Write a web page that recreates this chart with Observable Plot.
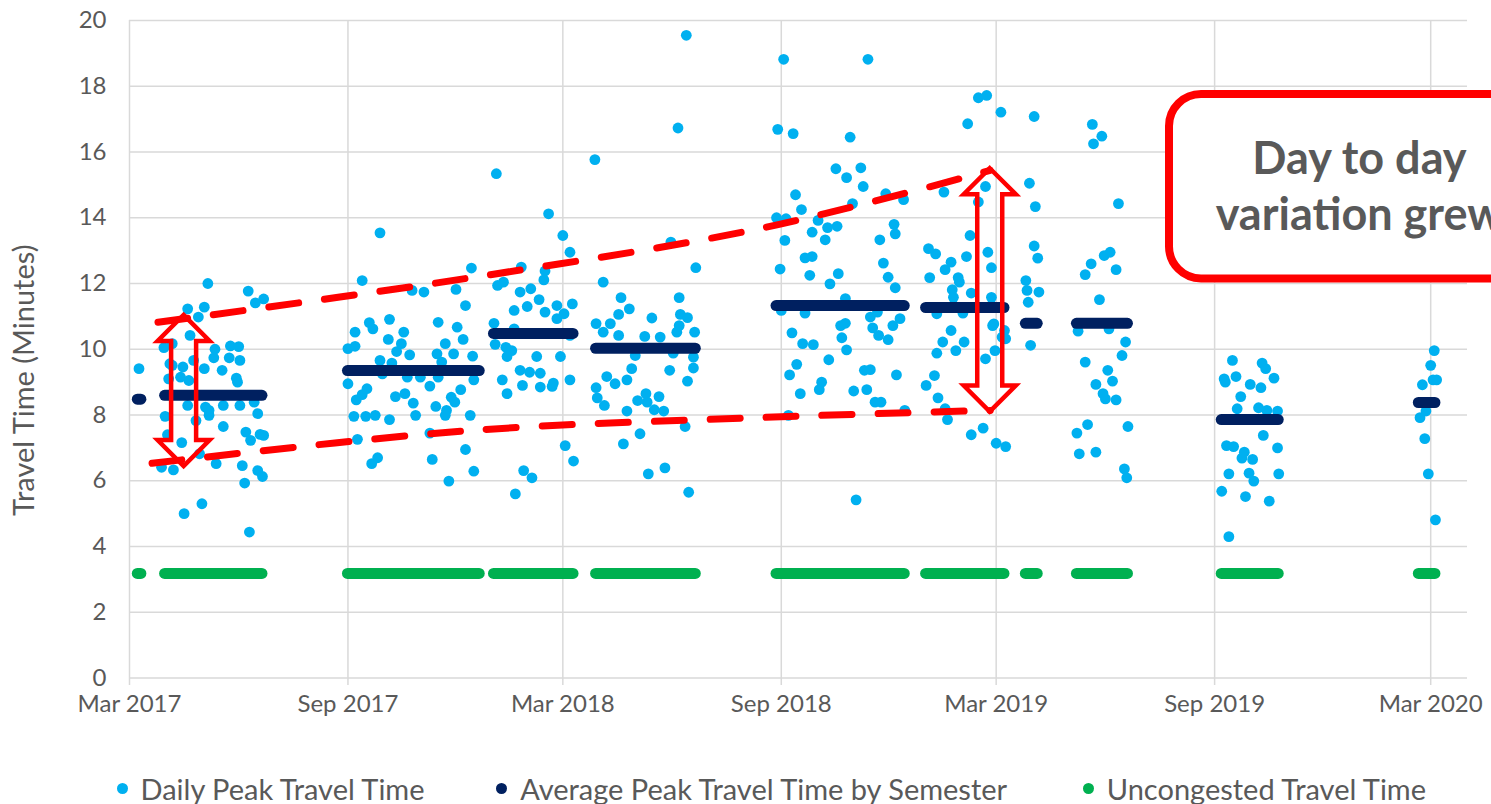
<!DOCTYPE html>
<html>
<head>
<meta charset="utf-8">
<script src="https://cdn.jsdelivr.net/npm/d3@7"></script>
<script src="https://cdn.jsdelivr.net/npm/@observablehq/plot@0.6"></script>
<style>
  html, body { margin: 0; padding: 0; background: #fff; }
  body { width: 1491px; height: 804px; overflow: hidden; font-family: Lato, "Open Sans", sans-serif; }
  #chart svg { display: block; }
  #legend { position: relative; width: 1491px; height: 54px; color: #595959; font-size: 29px; }
  #legend .item { position: absolute; top: 22px; height: 32px; display: flex; align-items: center; gap: 13px; white-space: nowrap; }
  #legend .dot { width: 11px; height: 11px; border-radius: 50%; flex: none; }
</style>
</head>
<body>
<div id="chart"></div>
<div id="legend"></div>
<script>
// ---------- DATA ----------
const xTickDates = ["2017-03-01","2017-09-01","2018-03-01","2018-09-01","2019-03-01","2019-09-01","2020-03-01"];
const yTickValues = [0,2,4,6,8,10,12,14,16,18,20];

// Daily peak travel time (minutes), [date, value]
const winter2017Peak = [["2017-03-09",9.41]];
const spring2017Peak = [
["2017-03-28",6.41],["2017-03-30",10.05],["2017-03-31",7.96],["2017-04-02",7.40],["2017-04-03",9.10],["2017-04-04",9.56],["2017-04-06",10.17],["2017-04-06",9.51],["2017-04-07",6.33],["2017-04-13",9.15],["2017-04-14",7.16],["2017-04-15",9.46],["2017-04-16",5.00],["2017-04-19",8.29],["2017-04-19",11.23],["2017-04-20",9.05],["2017-04-21",10.42],["2017-04-24",9.66],["2017-04-26",7.83],["2017-04-28",10.98],["2017-04-29",6.82],["2017-05-01",5.30],["2017-05-03",9.41],["2017-05-03",11.28],["2017-05-04",8.24],["2017-05-06",12.00],["2017-05-07",7.99],["2017-05-07",8.14],["2017-05-11",9.74],["2017-05-12",10.00],["2017-05-13",6.52],["2017-05-18",9.36],["2017-05-19",8.29],["2017-05-19",7.65],["2017-05-24",9.74],["2017-05-25",10.10],["2017-05-30",9.12],["2017-05-31",9.00],["2017-06-01",10.08],["2017-06-02",9.66],["2017-06-02",8.29],["2017-06-04",6.46],["2017-06-06",5.93],["2017-06-07",7.48],["2017-06-09",11.77],["2017-06-10",4.44],["2017-06-11",7.23],["2017-06-14",8.39],["2017-06-15",11.41],["2017-06-17",6.31],["2017-06-17",8.04],["2017-06-19",7.41],["2017-06-21",6.13],["2017-06-22",11.53],["2017-06-22",7.38]];
const fall2017Peak = [
["2017-09-01",10.02],["2017-09-01",8.95],["2017-09-06",7.96],["2017-09-07",10.52],["2017-09-07",10.09],["2017-09-08",8.46],["2017-09-09",7.26],["2017-09-13",12.09],["2017-09-13",8.62],["2017-09-16",7.96],["2017-09-17",8.80],["2017-09-19",10.81],["2017-09-21",6.52],["2017-09-22",10.62],["2017-09-24",7.99],["2017-09-26",6.70],["2017-09-28",9.66],["2017-09-28",13.54],["2017-09-30",9.25],["2017-10-05",10.30],["2017-10-06",10.91],["2017-10-06",7.86],["2017-10-08",9.58],["2017-10-11",8.56],["2017-10-12",9.93],["2017-10-16",10.17],["2017-10-18",10.52],["2017-10-19",8.65],["2017-10-21",9.15],["2017-10-23",9.83],["2017-10-25",11.79],["2017-10-26",8.36],["2017-10-28",7.99],["2017-11-01",9.15],["2017-11-04",11.74],["2017-11-09",8.88],["2017-11-09",7.45],["2017-11-11",6.65],["2017-11-14",8.26],["2017-11-15",9.86],["2017-11-16",10.82],["2017-11-16",9.15],["2017-11-19",9.61],["2017-11-22",10.17],["2017-11-22",7.99],["2017-11-23",8.14],["2017-11-25",5.99],["2017-11-27",8.54],["2017-11-29",9.86],["2017-11-30",8.39],["2017-12-01",11.82],["2017-12-02",10.67],["2017-12-05",8.77],["2017-12-07",10.30],["2017-12-09",11.33],["2017-12-09",6.95],["2017-12-13",7.99],["2017-12-14",12.47],["2017-12-15",9.79],["2017-12-16",9.07],["2017-12-16",6.29]];
const winter2018Peak = [
["2018-01-02",10.79],["2018-01-03",10.15],["2018-01-04",15.34],["2018-01-05",11.94],["2018-01-09",9.07],["2018-01-10",12.04],["2018-01-12",10.06],["2018-01-13",9.78],["2018-01-13",8.65],["2018-01-17",9.96],["2018-01-19",11.18],["2018-01-19",10.62],["2018-01-20",5.60],["2018-01-24",11.74],["2018-01-24",9.36],["2018-01-25",12.50],["2018-01-26",8.90],["2018-01-27",6.31],["2018-01-30",11.30],["2018-02-01",9.30],["2018-02-02",11.84],["2018-02-03",6.09],["2018-02-07",9.78],["2018-02-09",11.51],["2018-02-10",9.27],["2018-02-10",8.85],["2018-02-13",12.11],["2018-02-14",12.38],["2018-02-14",11.13],["2018-02-17",14.12],["2018-02-20",8.87],["2018-02-21",8.97],["2018-02-24",11.33],["2018-02-24",10.93],["2018-02-27",9.78],["2018-03-01",13.46],["2018-03-02",11.08],["2018-03-03",7.07],["2018-03-07",9.07],["2018-03-07",12.95],["2018-03-07",10.42],["2018-03-09",11.38],["2018-03-10",6.60]];
const spring2018Peak = [
["2018-03-28",15.77],["2018-03-29",10.78],["2018-03-29",8.83],["2018-03-30",8.52],["2018-04-04",12.04],["2018-04-04",10.52],["2018-04-05",8.29],["2018-04-07",9.17],["2018-04-10",10.78],["2018-04-14",8.95],["2018-04-17",11.06],["2018-04-17",10.42],["2018-04-19",11.57],["2018-04-21",7.12],["2018-04-24",8.12],["2018-04-24",9.07],["2018-04-26",11.23],["2018-04-28",9.41],["2018-05-01",9.81],["2018-05-03",8.44],["2018-05-05",7.43],["2018-05-09",10.39],["2018-05-10",8.65],["2018-05-11",8.39],["2018-05-12",6.21],["2018-05-15",10.95],["2018-05-17",8.16],["2018-05-21",8.56],["2018-05-22",10.37],["2018-05-25",8.12],["2018-05-26",6.39],["2018-05-30",9.36],["2018-05-31",13.26],["2018-06-02",9.88],["2018-06-05",10.52],["2018-06-06",16.73],["2018-06-07",11.57],["2018-06-07",10.72],["2018-06-08",11.06],["2018-06-12",7.65],["2018-06-13",19.55],["2018-06-14",10.96],["2018-06-14",9.03],["2018-06-15",5.65],["2018-06-19",9.76],["2018-06-19",9.43],["2018-06-20",10.52],["2018-06-21",12.48]];
const fall2018Peak = [
["2018-08-28",14.00],["2018-08-29",16.69],["2018-08-31",12.44],["2018-09-01",11.18],["2018-09-03",18.82],["2018-09-04",13.31],["2018-09-05",13.97],["2018-09-07",7.99],["2018-09-08",9.22],["2018-09-10",10.50],["2018-09-11",16.56],["2018-09-13",14.70],["2018-09-14",9.54],["2018-09-17",8.65],["2018-09-18",14.25],["2018-09-19",10.17],["2018-09-21",12.78],["2018-09-21",11.10],["2018-09-25",12.25],["2018-09-27",13.56],["2018-09-27",12.82],["2018-09-28",10.14],["2018-10-02",13.92],["2018-10-03",8.77],["2018-10-05",9.00],["2018-10-08",13.33],["2018-10-10",13.70],["2018-10-11",9.68],["2018-10-12",11.99],["2018-10-17",15.49],["2018-10-18",13.74],["2018-10-19",12.30],["2018-10-21",10.72],["2018-10-22",10.35],["2018-10-25",11.54],["2018-10-25",10.79],["2018-10-26",15.22],["2018-10-26",9.98],["2018-10-29",16.45],["2018-10-31",14.43],["2018-11-01",8.73],["2018-11-03",5.42],["2018-11-07",15.52],["2018-11-09",14.95],["2018-11-10",9.36],["2018-11-12",8.77],["2018-11-13",18.82],["2018-11-15",9.38],["2018-11-15",10.98],["2018-11-17",10.65],["2018-11-19",8.39],["2018-11-21",11.13],["2018-11-22",10.42],["2018-11-23",13.33],["2018-11-24",8.39],["2018-11-26",12.62],["2018-11-28",14.73],["2018-11-30",12.19],["2018-11-30",10.29],["2018-12-04",10.72],["2018-12-05",13.80],["2018-12-06",13.51],["2018-12-06",11.87],["2018-12-07",9.22],["2018-12-10",10.93],["2018-12-13",14.55],["2018-12-14",8.14]];
const winter2019Peak = [
["2019-01-01",8.90],["2019-01-03",13.06],["2019-01-04",12.18],["2019-01-08",9.20],["2019-01-09",12.90],["2019-01-10",11.08],["2019-01-10",9.88],["2019-01-11",8.52],["2019-01-15",10.22],["2019-01-16",14.78],["2019-01-17",12.42],["2019-01-17",8.19],["2019-01-19",7.86],["2019-01-22",12.65],["2019-01-22",10.57],["2019-01-23",11.81],["2019-01-24",11.58],["2019-01-26",9.96],["2019-01-28",12.18],["2019-01-29",12.04],["2019-02-01",11.10],["2019-02-02",10.22],["2019-02-04",12.82],["2019-02-05",16.86],["2019-02-07",13.46],["2019-02-08",11.71],["2019-02-08",7.40],["2019-02-14",17.65],["2019-02-14",14.48],["2019-02-18",7.60],["2019-02-20",14.95],["2019-02-20",9.71],["2019-02-21",17.72],["2019-02-22",12.95],["2019-02-25",12.48],["2019-02-25",11.58],["2019-02-26",10.72],["2019-02-27",10.77],["2019-02-28",9.96],["2019-03-01",7.14],["2019-03-05",17.21],["2019-03-06",10.37],["2019-03-08",10.57],["2019-03-09",7.04],["2019-03-09",10.32]];
const earlySpring2019Peak = [
["2019-03-26",12.09],["2019-03-27",11.79],["2019-03-28",11.43],["2019-03-29",15.05],["2019-03-30",10.12],["2019-04-02",17.08],["2019-04-02",13.14],["2019-04-03",14.34],["2019-04-05",12.77],["2019-04-06",11.74]];
const spring2019Peak = [
["2019-05-08",7.45],["2019-05-09",10.55],["2019-05-10",6.82],["2019-05-15",9.61],["2019-05-15",12.27],["2019-05-17",7.71],["2019-05-20",12.60],["2019-05-21",16.84],["2019-05-22",16.25],["2019-05-24",8.93],["2019-05-24",6.87],["2019-05-27",11.51],["2019-05-29",16.48],["2019-05-30",8.65],["2019-05-31",12.85],["2019-06-01",8.49],["2019-06-03",9.36],["2019-06-04",10.62],["2019-06-05",12.95],["2019-06-07",9.03],["2019-06-10",12.42],["2019-06-10",8.46],["2019-06-12",14.43],["2019-06-15",9.81],["2019-06-17",6.36],["2019-06-18",10.22],["2019-06-19",6.09],["2019-06-20",7.65]];
const fall2019Peak = [
["2019-09-07",5.68],["2019-09-09",9.10],["2019-09-10",9.00],["2019-09-11",7.07],["2019-09-13",6.21],["2019-09-13",4.30],["2019-09-16",9.66],["2019-09-17",7.04],["2019-09-19",9.17],["2019-09-20",8.19],["2019-09-23",8.56],["2019-09-24",6.69],["2019-09-26",6.87],["2019-09-27",5.52],["2019-09-30",6.23],["2019-10-01",8.93],["2019-10-03",6.65],["2019-10-04",5.99],["2019-10-08",8.22],["2019-10-10",8.83],["2019-10-11",9.58],["2019-10-12",7.38],["2019-10-14",9.41],["2019-10-15",8.14],["2019-10-17",5.38],["2019-10-21",9.12],["2019-10-24",8.12],["2019-10-24",7.00],["2019-10-25",6.21]];
const winter2020Peak = [
["2020-02-21",7.92],["2020-02-23",8.92],["2020-02-25",7.28],["2020-02-26",8.12],["2020-02-28",6.21],["2020-03-01",9.51],["2020-03-03",9.07],["2020-03-04",9.96],["2020-03-05",4.81],["2020-03-06",9.07]];

// Semester periods, semester average, uncongested travel time
const semesterStart   = ["2017-03-08","2017-03-31","2017-09-01","2018-01-02","2018-03-29","2018-08-28","2019-01-01","2019-03-26","2019-05-08","2019-09-07","2020-02-20"];
const semesterEnd     = ["2017-03-11","2017-06-21","2017-12-21","2018-03-10","2018-06-21","2018-12-14","2019-03-08","2019-04-05","2019-06-20","2019-10-25","2020-03-05"];
const semesterAverage = [8.48, 8.60, 9.35, 10.48, 10.03, 11.33, 11.27, 10.79, 10.79, 7.86, 8.38];
const uncongestedTime = [3.18, 3.18, 3.18, 3.18, 3.18, 3.18, 3.18, 3.18, 3.18, 3.18, 3.18];

// Annotation (red) — envelope lines and double arrows, in data units
const upperEnvelope = [["2017-03-25",10.82],["2017-12-09",12.15],["2018-08-19",13.71],["2019-02-24",15.44]];
const lowerEnvelope = [["2017-03-20",6.53],["2017-12-06",7.51],["2018-08-19",7.93],["2019-02-24",8.14]];
const arrowDates = ["2017-04-16","2019-02-24"];
const arrowLow   = [6.43, 8.09];
const arrowHigh  = [11.03, 15.49];
const calloutFrom = "2019-07-25", calloutTo = "2020-06-20", calloutTop = 17.75, calloutBottom = 12.14;
const calloutLines = ["Day to day", "variation grew"];
const calloutLineDate = "2020-01-01";
const calloutLineValue = [15.78, 14.08];

const legendLabels = ["Daily Peak Travel Time", "Average Peak Travel Time by Semester", "Uncongested Travel Time"];
const seriesColors = ["#00B0F0", "#002060", "#00B050"];

// ---------- BUILD ----------
const D = s => new Date(s);
const daily = [winter2017Peak, spring2017Peak, fall2017Peak, winter2018Peak, spring2018Peak, fall2018Peak,
  winter2019Peak, earlySpring2019Peak, spring2019Peak, fall2019Peak, winter2020Peak]
  .flat().map(([d, v]) => ({date: D(d), minutes: v}));
const semesters = semesterStart.map((s, i) => ({start: D(s), end: D(semesterEnd[i]), avg: semesterAverage[i], free: uncongestedTime[i]}));
const xTicks = xTickDates.map(D);
const env = a => a.map(([d, v]) => ({date: D(d), v}));

const red = "#FF0000";
const grid = "#d9d9d9";
const labelColor = "#595959";

function doubleArrows(index, scales) {
  const ns = "http://www.w3.org/2000/svg";
  const g = document.createElementNS(ns, "g");
  const hw = 26, hl = 26, sw = 12.5;
  arrowDates.forEach((d, i) => {
    const cx = scales.x(D(d)), yt = scales.y(arrowHigh[i]), yb = scales.y(arrowLow[i]);
    const pts = [[cx, yt], [cx + hw, yt + hl], [cx + sw, yt + hl], [cx + sw, yb - hl], [cx + hw, yb - hl], [cx, yb],
                 [cx - hw, yb - hl], [cx - sw, yb - hl], [cx - sw, yt + hl], [cx - hw, yt + hl]];
    const p = document.createElementNS(ns, "path");
    p.setAttribute("d", "M" + pts.map(q => q.join(",")).join("L") + "Z");
    p.setAttribute("fill", "none");
    p.setAttribute("stroke", red);
    p.setAttribute("stroke-width", "4.5");
    p.setAttribute("stroke-linejoin", "miter");
    g.appendChild(p);
  });
  return g;
}

const chart = Plot.plot({
  width: 1491,
  height: 750,
  marginLeft: 129,
  marginRight: 24,
  marginTop: 20,
  marginBottom: 72.5,
  x: {type: "utc", domain: [D("2017-03-01"), D("2020-04-01")], axis: null},
  y: {domain: [0, 20], axis: null},
  style: {fontFamily: "Lato, 'Open Sans', sans-serif", fontSize: "24px", background: "white"},
  marks: [
    Plot.ruleY(yTickValues, {stroke: grid, strokeWidth: 1.5}),
    Plot.ruleX(xTicks, {stroke: grid, strokeWidth: 1.5, insetBottom: -7.5}),
    Plot.ruleY(semesters, {y: "free", x1: "start", x2: "end", stroke: seriesColors[2], strokeWidth: 11, strokeLinecap: "round"}),
    Plot.dot(daily, {x: "date", y: "minutes", r: 5.4, fill: seriesColors[0], stroke: "none"}),
    Plot.ruleY(semesters, {y: "avg", x1: "start", x2: "end", stroke: seriesColors[1], strokeWidth: 11, strokeLinecap: "round"}),
    Plot.line(env(upperEnvelope), {x: "date", y: "v", stroke: red, strokeWidth: 7, strokeDasharray: "30,26", curve: "catmull-rom"}),
    Plot.line(env(lowerEnvelope), {x: "date", y: "v", stroke: red, strokeWidth: 7, strokeDasharray: "30,26", curve: "catmull-rom"}),
    doubleArrows,
    Plot.rect([0], {x1: () => D(calloutFrom), x2: () => D(calloutTo), y1: () => calloutTop, y2: () => calloutBottom,
      rx: 32, fill: "white", stroke: red, strokeWidth: 8}),
    Plot.text(calloutLines, {x: () => D(calloutLineDate), y: (d, i) => calloutLineValue[i], text: d => d,
      fontSize: 45, fontWeight: "bold", fill: labelColor}),
    Plot.text(yTickValues, {y: d => d, text: d => String(d), frameAnchor: "left", textAnchor: "end", dx: -23, fill: labelColor}),
    Plot.text(xTicks, {x: d => d, text: d => d3.utcFormat("%b %Y")(d), frameAnchor: "bottom", dy: 34, fill: labelColor}),
    Plot.text(["Travel Time (Minutes)"], {frameAnchor: "left", textAnchor: "middle", rotate: -90, dx: -105, dy: 31, fontSize: 29, fill: labelColor})
  ]
});
document.getElementById("chart").appendChild(chart);

// Legend (below the SVG)
const legendLeft = [116.5, 496.2, 1082.8];
const legend = document.getElementById("legend");
legendLabels.forEach((label, i) => {
  const item = document.createElement("div");
  item.className = "item";
  item.style.left = legendLeft[i] + "px";
  const dot = document.createElement("span");
  dot.className = "dot";
  dot.style.background = seriesColors[i];
  const txt = document.createElement("span");
  txt.textContent = label;
  item.appendChild(dot);
  item.appendChild(txt);
  legend.appendChild(item);
});
</script>
</body>
</html>
